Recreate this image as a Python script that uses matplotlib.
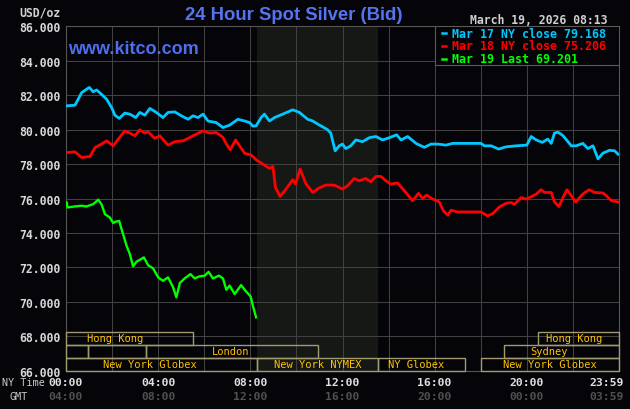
import matplotlib
matplotlib.use("Agg")
import matplotlib.pyplot as plt
import matplotlib.transforms as mtransforms
from matplotlib.patches import Rectangle
from matplotlib.lines import Line2D

# hours since 00:00 NY time, price in USD/oz
mar17_t = [0.03, 0.39, 0.53, 0.68, 1.01, 1.18, 1.33, 1.54, 1.76, 1.98, 2.12, 2.31, 2.55, 2.77,
           3.03, 3.20, 3.42, 3.64, 3.92, 4.21, 4.43, 4.72, 5.01, 5.30, 5.51, 5.73, 5.95, 6.16,
           6.52, 6.81, 7.10, 7.46, 7.75, 7.97, 8.11, 8.25, 8.47, 8.61, 8.83, 9.05, 9.41, 9.84,
           10.13, 10.49, 10.71, 10.95, 11.35, 11.49, 11.68, 11.86, 12.00, 12.14, 12.36, 12.58,
           12.87, 13.16, 13.45, 13.74, 14.03, 14.35, 14.54, 14.83, 15.19, 15.55, 15.84, 16.13,
           16.49, 16.78, 17.22, 18.01, 18.16, 18.45, 18.78, 19.10, 19.54, 20.00, 20.19, 20.41,
           20.67, 20.91, 21.06, 21.20, 21.35, 21.57, 21.93, 22.14, 22.43, 22.65, 22.87, 23.09,
           23.30, 23.59, 23.81, 23.96]
mar17_v = [81.38, 81.42, 81.77, 82.15, 82.45, 82.20, 82.30, 82.05, 81.77, 81.28, 80.84, 80.65,
           80.96, 80.90, 80.70, 81.00, 80.84, 81.23, 81.00, 80.70, 81.00, 81.03, 80.80, 80.60,
           80.80, 80.70, 80.90, 80.50, 80.41, 80.12, 80.26, 80.60, 80.50, 80.41, 80.20, 80.22,
           80.70, 80.90, 80.50, 80.70, 80.90, 81.15, 81.00, 80.60, 80.50, 80.30, 80.00, 79.80,
           78.77, 79.06, 79.16, 78.90, 79.06, 79.40, 79.30, 79.53, 79.60, 79.40, 79.53, 79.70,
           79.40, 79.60, 79.20, 78.97, 79.16, 79.16, 79.10, 79.20, 79.20, 79.20, 79.06, 79.06,
           78.87, 79.00, 79.06, 79.10, 79.60, 79.40, 79.26, 79.45, 79.20, 79.80, 79.85, 79.65,
           79.06, 79.06, 79.20, 78.90, 79.06, 78.30, 78.63, 78.80, 78.77, 78.57]

mar18_t = [0.03, 0.39, 0.68, 1.04, 1.26, 1.54, 1.76, 2.05, 2.27, 2.55, 2.77, 2.99, 3.20, 3.42,
           3.56, 3.85, 4.07, 4.43, 4.72, 5.08, 5.30, 5.51, 5.95, 6.23, 6.52, 6.81, 6.96, 7.13,
           7.36, 7.53, 7.75, 8.04, 8.25, 8.54, 8.83, 8.98, 9.09, 9.29, 9.55, 9.84, 9.96, 10.16,
           10.42, 10.71, 10.97, 11.28, 11.64, 12.00, 12.22, 12.51, 12.72, 13.01, 13.23, 13.45,
           13.67, 13.88, 14.10, 14.39, 14.75, 15.04, 15.30, 15.48, 15.65, 15.91, 16.20, 16.38,
           16.57, 16.71, 17.00, 18.01, 18.30, 18.52, 18.81, 19.10, 19.32, 19.46, 19.75, 19.97,
           20.19, 20.41, 20.62, 20.77, 21.06, 21.20, 21.39, 21.57, 21.74, 21.93, 22.12, 22.43,
           22.70, 22.94, 23.30, 23.45, 23.67, 23.96]
mar18_v = [78.67, 78.71, 78.38, 78.44, 78.96, 79.16, 79.35, 79.06, 79.45, 79.93, 79.80, 79.64,
           79.99, 79.80, 79.87, 79.49, 79.64, 79.10, 79.30, 79.35, 79.49, 79.64, 79.93, 79.80,
           79.83, 79.55, 79.16, 78.83, 79.40, 79.06, 78.63, 78.52, 78.25, 78.00, 77.75, 77.86,
           76.64, 76.12, 76.55, 77.09, 76.84, 77.71, 76.84, 76.35, 76.60, 76.78, 76.78, 76.55,
           76.74, 77.16, 77.03, 77.16, 76.97, 77.28, 77.28, 77.03, 76.84, 76.90, 76.35, 75.87,
           76.30, 76.00, 76.20, 75.97, 75.80, 75.28, 75.03, 75.32, 75.22, 75.22, 74.99, 75.12,
           75.51, 75.72, 75.76, 75.66, 76.05, 75.97, 76.10, 76.26, 76.51, 76.35, 76.35, 75.80,
           75.53, 76.05, 76.51, 76.16, 75.80, 76.26, 76.51, 76.35, 76.32, 76.16, 75.87, 75.80]

mar19_t = [0.03, 0.06, 0.39, 0.68, 0.89, 1.18, 1.40, 1.54, 1.69, 1.90, 2.05, 2.12, 2.31, 2.41,
           2.63, 2.77, 2.91, 3.06, 3.38, 3.56, 3.78, 4.00, 4.21, 4.43, 4.65, 4.79, 4.94, 5.15,
           5.40, 5.58, 5.80, 6.02, 6.19, 6.38, 6.64, 6.81, 6.96, 7.10, 7.32, 7.60, 7.82, 8.01,
           8.11, 8.25]
mar19_v = [75.77, 75.48, 75.54, 75.58, 75.54, 75.67, 75.93, 75.67, 75.09, 74.90, 74.57, 74.64,
           74.70, 74.22, 73.25, 72.77, 72.06, 72.33, 72.58, 72.13, 71.94, 71.42, 71.22, 71.42,
           70.84, 70.26, 71.09, 71.36, 71.61, 71.36, 71.48, 71.52, 71.74, 71.36, 71.52, 71.36,
           70.70, 70.94, 70.45, 70.97, 70.59, 70.32, 69.77, 69.10]

legend_labels = ["Mar 17 NY close 79.168", "Mar 18 NY close 75.206", "Mar 19 Last 69.201"]
ny_labels = ["00:00", "04:00", "08:00", "12:00", "16:00", "20:00", "23:59"]
gmt_labels = ["04:00", "08:00", "12:00", "16:00", "20:00", "00:00", "03:59"]
label_hours = [0, 4, 8, 12, 16, 20, 23.48]

# market sessions: (row, start, end, name, text centre)
sessions = [
    (0, 0.0, 5.5, "Hong Kong", 2.13),
    (0, 20.5, 24.0, "Hong Kong", 22.06),
    (1, 0.0, 0.95, "", 0),
    (1, 0.95, 3.47, "", 0),
    (1, 3.47, 10.95, "London", 7.16),
    (1, 19.0, 24.0, "Sydney", 20.98),
    (2, 0.0, 8.28, "New York Globex", 3.66),
    (2, 8.28, 13.52, "New York NYMEX", 10.91),
    (2, 13.52, 17.33, "NY Globex", 15.2),
    (2, 18.0, 24.0, "New York Globex", 20.98),
]

bg = "#050408"
mono = "DejaVu Sans Mono"

fig = plt.figure(figsize=(6.3, 4.1), dpi=100, facecolor=bg)
ax = fig.add_axes([66 / 630, 38.3 / 410, 553 / 630, 344.4 / 410])
ax.set_facecolor(bg)

ax.axvspan(8.28, 13.52, color="#151815", zorder=0, lw=0)

ax.plot(mar17_t, mar17_v, color="#00c8ff", lw=2.0, zorder=4)
ax.plot(mar18_t, mar18_v, color="#ff0000", lw=2.0, zorder=4)
ax.plot(mar19_t, mar19_v, color="#00ff00", lw=1.7, zorder=4)

ax.set_xlim(0, 24)
ax.set_ylim(66, 86)
ax.set_yticks(range(66, 87, 2))
ax.yaxis.set_major_formatter(lambda v, p: f"{v:.3f}")
ax.set_xticks(range(0, 25, 2))
ax.set_xticklabels([])
ax.tick_params(length=0)
ax.tick_params(axis="y", pad=3.6, labelsize=8.3, labelcolor="#d8d8d8")
for lab in ax.get_yticklabels():
    lab.set_family(mono)
    lab.set_weight("bold")
ax.set_axisbelow(True)
ax.grid(True, color="#414141", lw=0.75)
for s in ax.spines.values():
    s.set_color("#555555")
    s.set_linewidth(0.8)

# session boxes
row_bottom = [0.0755, 0.0377, 0.0]
row_h = 0.037
btrans = mtransforms.blended_transform_factory(ax.transData, ax.transAxes)
for row, t0, t1, name, tc in sessions:
    ax.add_patch(Rectangle((t0, row_bottom[row]), t1 - t0, row_h, transform=btrans,
                           facecolor="none", edgecolor="#a09c70", lw=1.0, zorder=3,
                           clip_on=False))
    if name:
        ax.text(tc, row_bottom[row] + row_h / 2, name, transform=btrans, ha="center",
                va="center", color="#ffc400", fontsize=7.5, family=mono, zorder=5)

# legend box
ax.add_patch(Rectangle((0.667, 0.8868), 0.333, 0.1132, transform=ax.transAxes,
                       facecolor=bg, edgecolor="#5a5a5a", lw=0.8, zorder=6))
for i, (lab, col) in enumerate(zip(legend_labels, ["#00c8ff", "#ff0000", "#00ff00"])):
    yy = 0.9795 - i * 0.0365
    ax.add_line(Line2D([0.680, 0.687], [yy, yy], transform=ax.transAxes, color=col,
                       lw=1.8, zorder=7))
    ax.text(0.6975, yy, lab, transform=ax.transAxes, ha="left", va="center", color=col,
            fontsize=8.4, family=mono, weight="bold", zorder=7)

# texts
fig.text(293.5 / 630, 1 - 15.3 / 410, "24 Hour Spot Silver (Bid)", ha="center", va="center",
         color="#5574f0", fontsize=13.3, family="Liberation Sans", weight="bold")
fig.text(68 / 630, 1 - 49 / 410, "www.kitco.com", ha="left", va="center",
         color="#4e6ef0", fontsize=13, family="Liberation Sans", weight="bold")
fig.text(608 / 630, 1 - 20 / 410, "March 19, 2026 08:13", ha="right", va="center",
         color="#d0d0d0", fontsize=8.3, family=mono, weight="bold")
fig.text(61 / 630, 1 - 13 / 410, "USD/oz", ha="right", va="center",
         color="#d0d0d0", fontsize=8.3, family=mono, weight="bold")

ftrans = mtransforms.blended_transform_factory(ax.transData, fig.transFigure)
y_ny = 1 - 383.3 / 410
y_gmt = 1 - 396.7 / 410
fig.text(2 / 630, y_ny, "NY Time", ha="left", va="center", color="#c8c8c8",
         fontsize=7.3, family=mono)
fig.text(10 / 630, y_gmt, "GMT", ha="left", va="center", color="#c8c8c8",
         fontsize=7.3, family=mono)
for h, ny, gm in zip(label_hours, ny_labels, gmt_labels):
    ax.text(h, y_ny, ny, transform=ftrans, ha="center", va="center", color="#e0e0e0",
            fontsize=8.2, family=mono, weight="bold", clip_on=False)
    ax.text(h, y_gmt, gm, transform=ftrans, ha="center", va="center", color="#505050",
            fontsize=8.2, family=mono, weight="bold", clip_on=False)

fig.savefig("out.png", dpi=100, facecolor=bg)
